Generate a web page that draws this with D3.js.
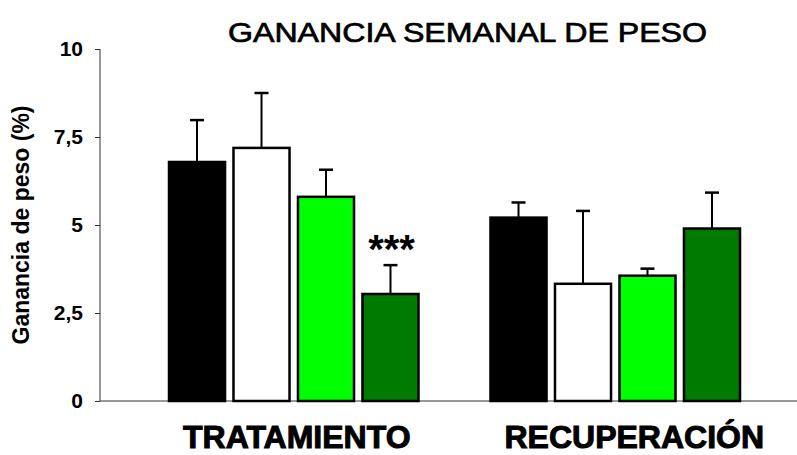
<!DOCTYPE html>
<html>
<head>
<meta charset="utf-8">
<script src="https://cdn.jsdelivr.net/npm/d3@7"></script>
<style>
  html, body { margin: 0; padding: 0; background: #fff; }
  svg { display: block; }
</style>
</head>
<body>
<svg id="chart" width="797" height="455"></svg>
<script>
// Weekly weight gain (%) by phase, four groups per phase
const phases = ["TRATAMIENTO", "RECUPERACIÓN"];
const groups = ["G1", "G2", "G3", "G4"];
const meanTratamiento = [6.79, 7.19, 5.8, 3.04];
const meanRecuperacion = [5.21, 3.33, 3.56, 4.9];
const errTratamiento = [1.19, 1.56, 0.77, 0.82];
const errRecuperacion = [0.43, 2.07, 0.2, 1.02];
const sigTratamiento = ["", "", "", "***"];
const sigRecuperacion = ["", "", "", ""];
const yTicks = [0, 2.5, 5, 7.5, 10];
const groupColors = ["#000000", "#ffffff", "#00ff00", "#007a00"];

const rows = [
  { phase: phases[0], means: meanTratamiento, errs: errTratamiento, sig: sigTratamiento },
  { phase: phases[1], means: meanRecuperacion, errs: errRecuperacion, sig: sigRecuperacion }
];

const svg = d3.select("#chart");
const axisX = 100, baseY = 401, topY = 49, rightX = 797;
const font = "Liberation Sans, Arial, sans-serif";

const y = d3.scaleLinear().domain([0, 10]).range([baseY, topY]);
const x0 = d3.scaleBand().domain(phases).range([168, 741]).paddingInner(0.2177).paddingOuter(0);
const x1 = d3.scaleBand().domain(groups).range([0, x0.bandwidth()]).paddingInner(0.1).paddingOuter(0);
const color = d3.scaleOrdinal().domain(groups).range(groupColors);
const fmt = d => d3.format(".1f")(d).replace(".0", "").replace(".", ",");

// Title
svg.append("text")
  .attr("x", 228).attr("y", 42)
  .attr("textLength", 479)
  .attr("lengthAdjust", "spacingAndGlyphs")
  .attr("font-family", font)
  .attr("font-size", 28)
  .attr("fill", "#000")
  .attr("stroke", "#000").attr("stroke-width", 0.7)
  .text("GANANCIA SEMANAL DE PESO");

// Y axis
const yAxis = svg.append("g")
  .attr("transform", `translate(${axisX},0)`)
  .call(d3.axisLeft(y).tickValues(yTicks).tickFormat(fmt).tickSize(5).tickPadding(12));
yAxis.select(".domain").attr("stroke", "#333").attr("stroke-width", 1).attr("d", `M0,${baseY}V${topY}`);
yAxis.selectAll(".tick line").attr("stroke", "#333");
yAxis.selectAll(".tick text")
  .attr("font-family", font)
  .attr("font-size", 21)
  .attr("font-weight", "bold")
  .attr("fill", "#000");

// Baseline
svg.append("line")
  .attr("x1", axisX).attr("x2", rightX)
  .attr("y1", baseY).attr("y2", baseY)
  .attr("stroke", "#333").attr("stroke-width", 1);

// Y axis label
svg.append("text")
  .attr("transform", `translate(29,225) rotate(-90)`)
  .attr("text-anchor", "middle")
  .attr("font-family", font)
  .attr("font-size", 23)
  .attr("font-weight", "bold")
  .attr("fill", "#000")
  .text("Ganancia de peso (%)");

// Bars, error bars and significance marks
const phaseG = svg.selectAll("g.phase")
  .data(rows).enter().append("g")
  .attr("class", "phase")
  .attr("transform", d => `translate(${x0(d.phase)},0)`);

const bar = phaseG.selectAll("g.bar")
  .data(d => groups.map((g, i) => ({ g, v: d.means[i], e: d.errs[i], s: d.sig[i] })))
  .enter().append("g").attr("class", "bar");

const capW = 14;
bar.append("line")
  .attr("x1", d => x1(d.g) + x1.bandwidth() / 2)
  .attr("x2", d => x1(d.g) + x1.bandwidth() / 2)
  .attr("y1", d => y(d.v))
  .attr("y2", d => y(d.v + d.e))
  .attr("stroke", "#000").attr("stroke-width", 2);
bar.append("line")
  .attr("x1", d => x1(d.g) + x1.bandwidth() / 2 - capW / 2)
  .attr("x2", d => x1(d.g) + x1.bandwidth() / 2 + capW / 2)
  .attr("y1", d => y(d.v + d.e))
  .attr("y2", d => y(d.v + d.e))
  .attr("stroke", "#000").attr("stroke-width", 2.5);

bar.append("rect")
  .attr("x", d => x1(d.g) + 1)
  .attr("y", d => y(d.v))
  .attr("width", x1.bandwidth() - 2)
  .attr("height", d => baseY - y(d.v))
  .attr("fill", d => color(d.g))
  .attr("stroke", "#000").attr("stroke-width", 2.5);

bar.filter(d => d.s).append("text")
  .attr("x", d => x1(d.g) + x1.bandwidth() / 2 + 1)
  .attr("y", d => y(d.v + d.e) - 2)
  .attr("text-anchor", "middle")
  .attr("font-family", font)
  .attr("font-size", 40)
  .attr("font-weight", "bold")
  .attr("fill", "#000")
  .text(d => d.s);

// Phase labels
phaseG.append("text")
  .attr("x", 15)
  .attr("y", 448)
  .attr("font-family", font)
  .attr("font-size", 32)
  .attr("font-weight", "bold")
  .attr("fill", "#000")
  .attr("stroke", "#000").attr("stroke-width", 1)
  .text(d => d.phase);
</script>
</body>
</html>
